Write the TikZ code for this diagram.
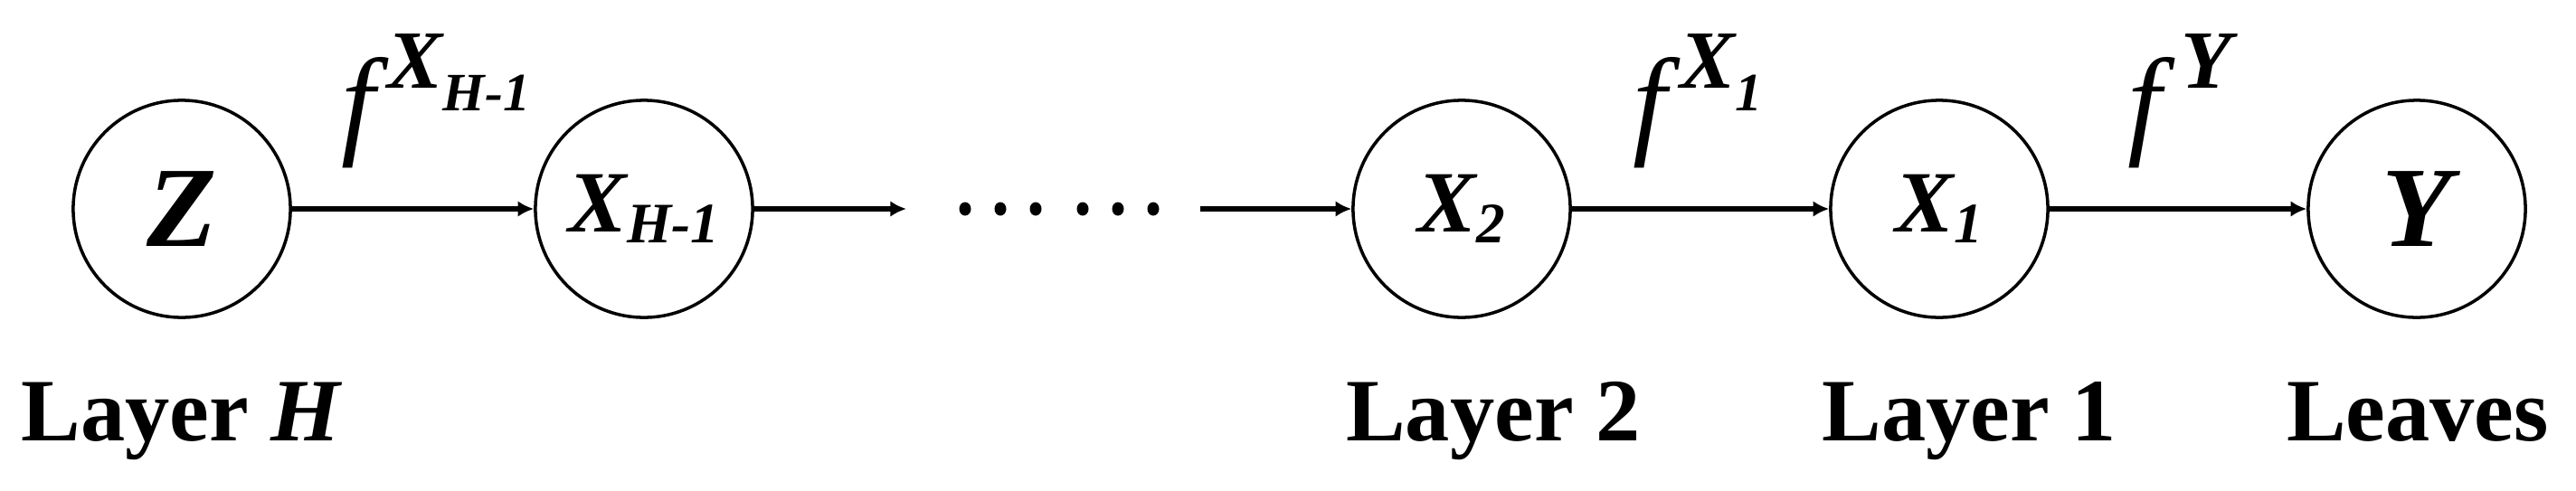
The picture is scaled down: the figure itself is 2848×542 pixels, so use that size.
\documentclass[tikz,border=0pt]{standalone}
\usepackage{fontspec}
\setmainfont{Liberation Serif}
\usetikzlibrary{arrows.meta}
\newcommand\fsz[1]{\fontsize{#1}{#1}\selectfont}
\tikzset{
  layernode/.style={circle,draw=black,line width=1pt,minimum size=2.4cm,inner sep=0pt,font=\bfseries\itshape},
  conn/.style={line width=1.5pt,-{Latex[length=5pt,width=5pt]}},
  layerlabel/.style={anchor=base,inner sep=0pt,font=\bfseries\fsz{28pt}},
  funclabel/.style={anchor=base,inner sep=0pt,font=\itshape}
}
\begin{document}
\begin{tikzpicture}[x=0.01cm,y=-0.01cm]
\useasboundingbox (0,0) rectangle (2848,542);
% nodes
\node[layernode] (Z)  at (201,231) {\fsz{36pt}Z};
\node[layernode] (XH) at (712,231) {\fsz{27.5pt}X\raisebox{-3.4pt}{\fsz{18pt}H-1}};
\node[layernode] (X2) at (1616,231) {\fsz{27.5pt}X\raisebox{-3.4pt}{\fsz{18pt}2}};
\node[layernode] (X1) at (2144,231) {\fsz{27.5pt}X\raisebox{-3.4pt}{\fsz{18pt}1}};
\node[layernode] (Y)  at (2672,231) {\fsz{36pt}Y};
\coordinate (d1) at (1002,231);
\coordinate (d2) at (1327,231);
% connectors
\draw[conn] (Z) -- (XH);
\draw[conn] (XH.east) -- (d1);
\draw[conn] (d2) -- (X2.west);
\draw[conn] (X2) -- (X1);
\draw[conn] (X1) -- (Y);
% dots
\foreach \x in {1067,1106,1145,1197,1236,1275}
  \fill (\x,231) ellipse (6.5 and 7.5);
% function labels
\node[funclabel] (fH) at (482,157) {\fsz{38pt}f\kern4pt\raisebox{17pt}{\bfseries\fsz{26pt}X}\raisebox{9.7pt}{\bfseries\fsz{17pt}H-1}};
\node[funclabel] (f1) at (1877,157) {\fsz{38pt}f\kern4pt\raisebox{17pt}{\bfseries\fsz{26pt}X}\raisebox{9.7pt}{\bfseries\fsz{17pt}1}};
\node[funclabel] (fY) at (2410,157) {\fsz{38pt}f\kern6pt\raisebox{17pt}{\bfseries\fsz{26pt}Y}};
% layer labels
\node[layerlabel] (lH) at (201,487) {Layer \textit{H}};
\node[layerlabel] (l2) at (1651,487) {Layer 2};
\node[layerlabel] (l1) at (2177,487) {Layer 1};
\node[layerlabel] (lL) at (2673,487) {Leaves};
\end{tikzpicture}
\end{document}
